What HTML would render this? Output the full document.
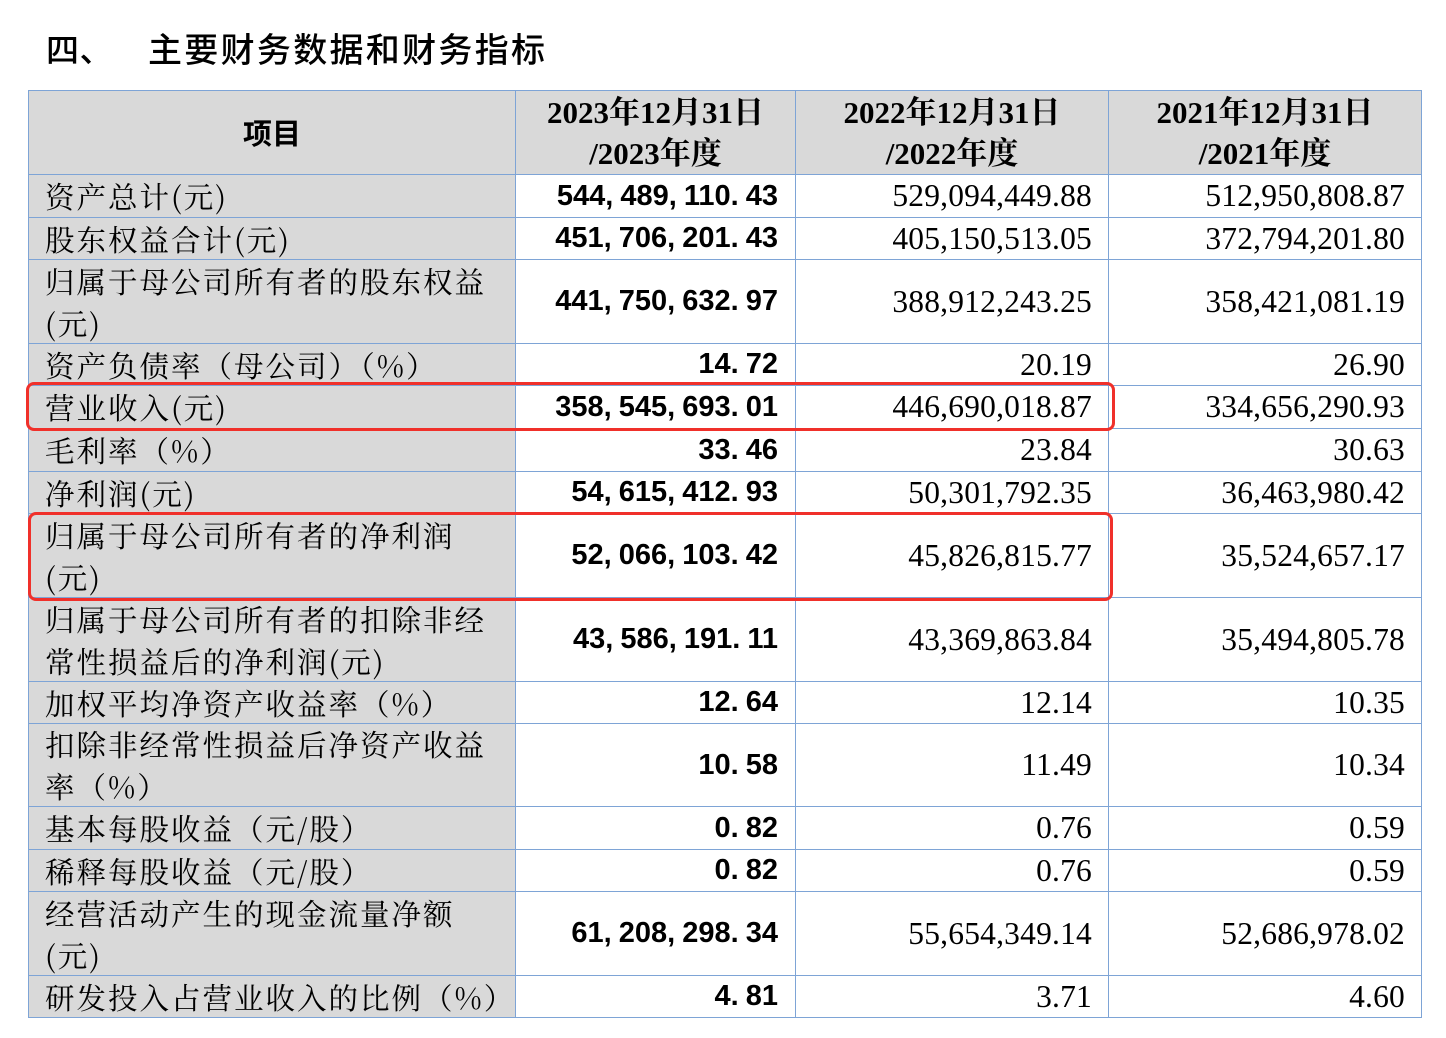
<!DOCTYPE html>
<html><head><meta charset="utf-8"><style>
body{margin:0;width:1446px;height:1038px;background:#fff;position:relative;overflow:hidden;font-family:"Liberation Serif","Noto Serif CJK SC",serif;color:#000}
.t{position:absolute;font-family:"Noto Sans CJK SC",sans-serif;font-size:33px;font-weight:500;top:26px;line-height:44px;letter-spacing:0.5px}
.c{position:absolute;box-sizing:border-box;border:1px solid #7ea4d6;display:flex;align-items:center}
.g{background:#d9d9d9}
.l{font-family:"Noto Serif CJK SC","Noto Sans CJK SC",serif;font-size:29.5px;line-height:42px;padding-left:16px;letter-spacing:2px;white-space:nowrap}
.b{font-family:"Liberation Sans",sans-serif;font-weight:bold;font-size:29px;justify-content:flex-end;padding-right:17px;word-spacing:-1px}
.n{font-family:"Liberation Serif",serif;font-size:31.5px;justify-content:flex-end;padding-right:16px;letter-spacing:0.2px}
.h{font-family:"Liberation Serif","Noto Serif CJK SC",serif;font-weight:bold;font-size:31px;justify-content:center;text-align:center;line-height:41px}
.r{position:absolute;border:3px solid #f0302a;border-radius:8px;box-sizing:border-box}
</style></head><body>
<div class="t" style="left:46px">四、</div>
<div class="t" style="left:148px;font-size:34px;letter-spacing:2.3px">主要财务数据和财务指标</div>
<div id="tb"></div>
<script>
var xs=[28,515,795,1108,1421];
var ys=[90,174,217,259,343,385,428,471,513,597,681,723,806,849,891,975,1017];
var rows=[
["资产总计(元)","544, 489, 110. 43","529,094,449.88","512,950,808.87"],
["股东权益合计(元)","451, 706, 201. 43","405,150,513.05","372,794,201.80"],
["归属于母公司所有者的股东权益<br>(元)","441, 750, 632. 97","388,912,243.25","358,421,081.19"],
["资产负债率（母公司）（%）","14. 72","20.19","26.90"],
["营业收入(元)","358, 545, 693. 01","446,690,018.87","334,656,290.93"],
["毛利率（%）","33. 46","23.84","30.63"],
["净利润(元)","54, 615, 412. 93","50,301,792.35","36,463,980.42"],
["归属于母公司所有者的净利润<br>(元)","52, 066, 103. 42","45,826,815.77","35,524,657.17"],
["归属于母公司所有者的扣除非经<br>常性损益后的净利润(元)","43, 586, 191. 11","43,369,863.84","35,494,805.78"],
["加权平均净资产收益率（%）","12. 64","12.14","10.35"],
["扣除非经常性损益后净资产收益<br>率（%）","10. 58","11.49","10.34"],
["基本每股收益（元/股）","0. 82","0.76","0.59"],
["稀释每股收益（元/股）","0. 82","0.76","0.59"],
["经营活动产生的现金流量净额<br>(元)","61, 208, 298. 34","55,654,349.14","52,686,978.02"],
["研发投入占营业收入的比例（%）","4. 81","3.71","4.60"]];
var h='';
function cell(x0,x1,y0,y1,cls,txt){h+='<div class="c '+cls+'" style="left:'+x0+'px;top:'+y0+'px;width:'+(x1-x0+1)+'px;height:'+(y1-y0+1)+'px">'+txt+'</div>';}
cell(xs[0],xs[1],ys[0],ys[1],'g h','<div style="font-family:\'Noto Sans CJK SC\',sans-serif;font-weight:bold;font-size:29px">项目</div>');
cell(xs[1],xs[2],ys[0],ys[1],'g h','2023年12月31日<br>/2023年度');
cell(xs[2],xs[3],ys[0],ys[1],'g h','2022年12月31日<br>/2022年度');
cell(xs[3],xs[4],ys[0],ys[1],'g h','2021年12月31日<br>/2021年度');
for(var i=0;i<rows.length;i++){var r=rows[i],y0=ys[i+1],y1=ys[i+2];
cell(xs[0],xs[1],y0,y1,'g l','<div>'+r[0]+'</div>');
cell(xs[1],xs[2],y0,y1,'b',r[1]);
cell(xs[2],xs[3],y0,y1,'n',r[2]);
cell(xs[3],xs[4],y0,y1,'n',r[3]);}
h+='<div class="r" style="left:26px;top:382px;width:1089px;height:49px"></div>';
h+='<div class="r" style="left:28px;top:512px;width:1085px;height:89px"></div>';
document.getElementById('tb').innerHTML=h;
</script>
</body></html>
